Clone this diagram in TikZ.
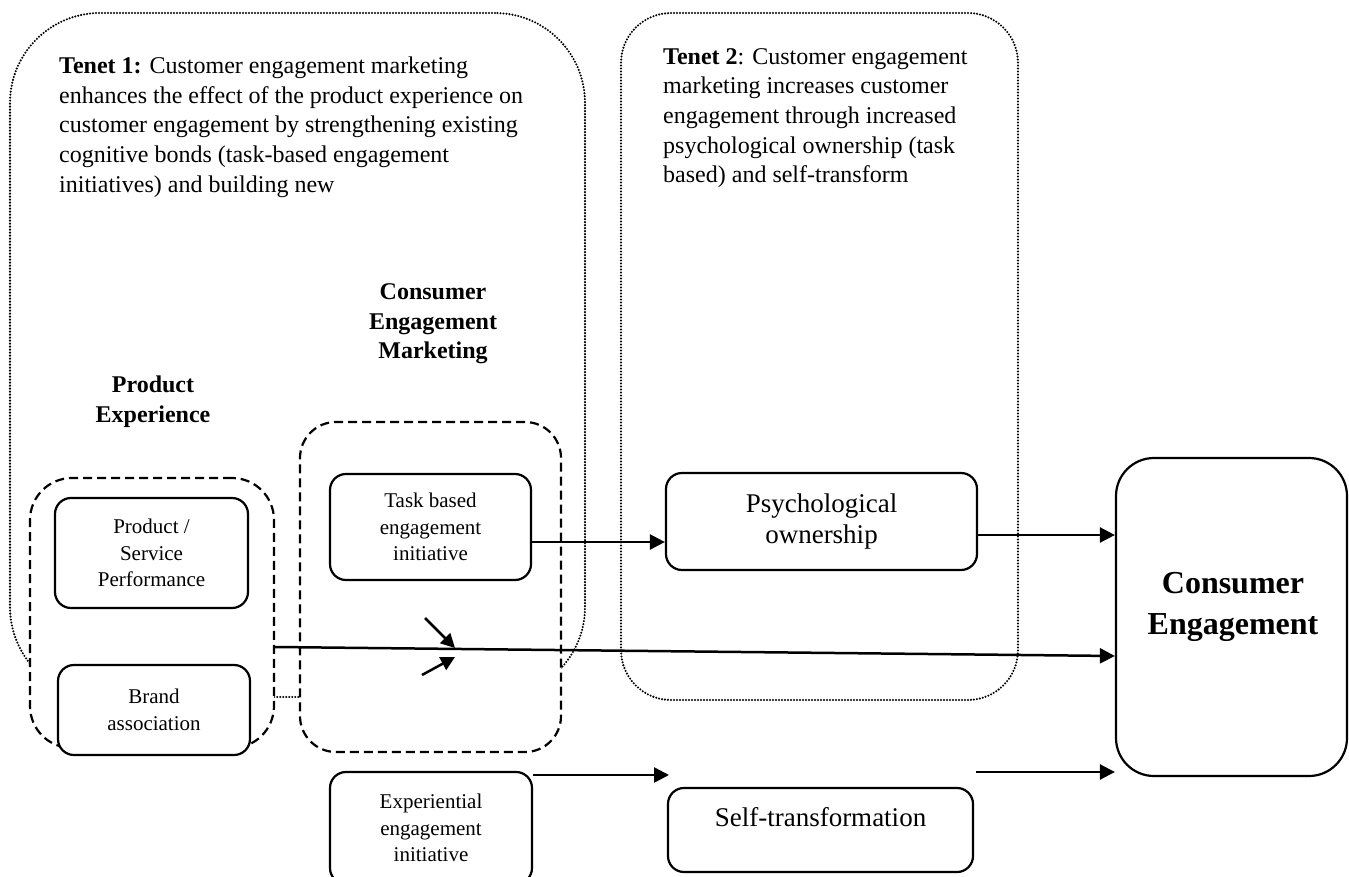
\documentclass[tikz,border=0pt]{standalone}
\usepackage{fontspec}
\setmainfont{Liberation Serif}
\usetikzlibrary{arrows.meta}
\begin{document}
\begin{tikzpicture}[x=1pt,y=-1pt,
  box/.style={draw, line width=2.2pt, fill=white, rounded corners=16pt, inner sep=0pt, align=center,
              font=\fontsize{21}{26.5}\selectfont},
  bigbox/.style={box, font=\fontsize{27}{31}\selectfont},
  dashbox/.style={draw, line width=2.2pt, fill=white, dash pattern=on 9pt off 5pt, inner sep=0pt},
  dotbox/.style={draw, line width=2.3pt, line cap=round, dash pattern=on 0pt off 3pt, inner sep=0pt},
  arr/.style={line width=2.5pt, -{Triangle[length=15pt,width=15pt]}},
  smallarr/.style={line width=2.5pt, -{Triangle[length=14pt,width=14pt]}},
  tenet/.style={anchor=north west, inner sep=0pt, align=left, font=\fontsize{24}{29.7}\selectfont},
  head/.style={inner sep=0pt, align=center, font=\fontsize{24}{29.7}\selectfont\bfseries},
  celbl/.style={inner sep=0pt, align=center, font=\fontsize{32}{41}\selectfont\bfseries},
  stlbl/.style={inner sep=0pt, font=\fontsize{27}{31}\selectfont}
]
\useasboundingbox (0,0) rectangle (1349,877);

% tenet outlines
\node[dotbox, rounded corners=90pt, minimum width=575pt, minimum height=684pt] (t1) at (297.5,355) {};
\node[dotbox, rounded corners=50pt, minimum width=397pt, minimum height=687pt] (t2) at (819.5,356.5) {};

% tenet texts
\node[tenet] (t1txt) at (59,56.5) {\textbf{Tenet 1:} Customer engagement marketing\\
enhances the effect of the product experience on\\
customer engagement by strengthening existing\\
cognitive bonds (task-based engagement\\
initiatives) and building new};
\node[tenet] (t2txt) at (663,48) {\textbf{Tenet 2}: Customer engagement\\
marketing increases customer\\
engagement through increased\\
psychological ownership (task\\
based) and self-transform};

% headings
\node[head] (pehead) at (153,402) {Product\\Experience};
\node[head] (cemhead) at (433,324) {Consumer\\Engagement\\Marketing};

% dashed group boxes
\node[dashbox, rounded corners=42pt, minimum width=244pt, minimum height=270pt] (pe) at (152,613) {};
\node[dashbox, rounded corners=36pt, minimum width=261pt, minimum height=330pt] (cem) at (430.5,587) {};

% inner boxes
\node[box, minimum width=193pt, minimum height=110pt] (ps) at (151.5,553) {Product /\\Service\\Performance};
\node[box, minimum width=192pt, minimum height=90pt] (brand) at (154,710) {Brand\\association};
\node[box, minimum width=201pt, minimum height=106pt] (task) at (430.5,527) {Task based\\engagement\\initiative};
\node[box, minimum width=202pt, minimum height=112pt] (exp) at (431,828) {Experiential\\engagement\\initiative};
\node[bigbox, minimum width=311pt, minimum height=97pt] (psych) at (821.5,521.5) {Psychological\\ownership};
\node[bigbox, minimum width=305pt, minimum height=84pt] (self) at (820.5,830) {};
\node[stlbl] (selflbl) at (820.5,817) {Self-transformation};
\node[box, rounded corners=38pt, minimum width=231pt, minimum height=318pt] (ce) at (1231.5,617) {};
\node[celbl] (celbl) at (1233,607) {Consumer\\Engagement};

% connectors
\draw[arr] ([yshift=-15pt]task.east) -- ([yshift=-20.5pt]psych.west);
\draw[arr] ([yshift=-13.5pt]psych.east) -- ([yshift=82pt]ce.west);
\draw[arr] ([yshift=-34pt]pe.east) -- ([yshift=-39pt]ce.west);

\coordinate (stin) at (669,775);
\coordinate (stout) at (976,772);
\draw[arr] ([yshift=53pt]exp.east) -- (stin);
\draw[arr] (stout) -- ([yshift=-155pt]ce.west);

\coordinate (m1s) at (425,618);
\coordinate (m1e) at (455,648);
\coordinate (m2s) at (422,675);
\coordinate (m2e) at (455,657);
\draw[smallarr] (m1s) -- (m1e);
\draw[smallarr] (m2s) -- (m2e);
\end{tikzpicture}
\end{document}
